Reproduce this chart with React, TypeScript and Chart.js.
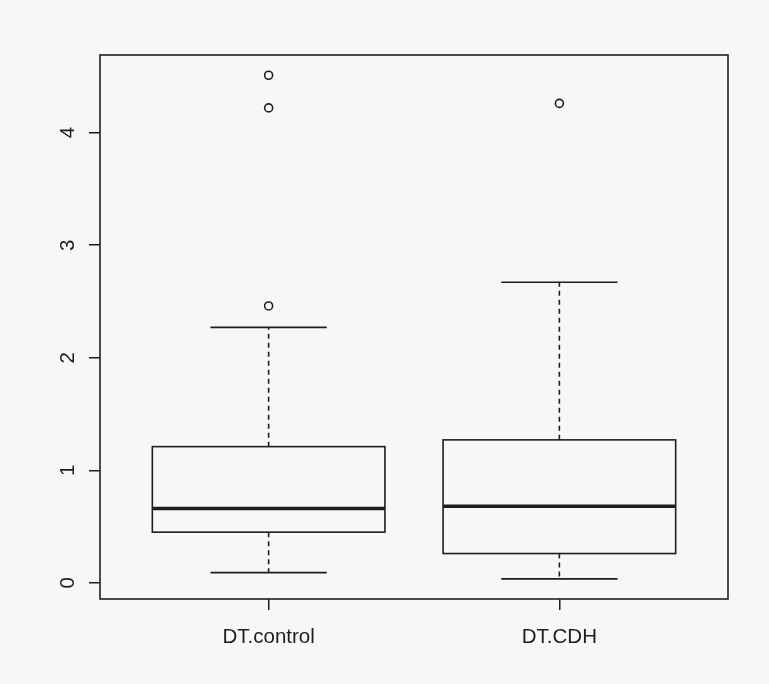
import { useEffect, useRef } from "react";
import { Chart, registerables } from "chart.js";

Chart.register(...registerables);

// ---- data ----
const categories = ["DT.control", "DT.CDH"];
const whiskerLow = [0.09, 0.035];
const q1 = [0.45, 0.26];
const median = [0.66, 0.68];
const q3 = [1.21, 1.27];
const whiskerHigh = [2.27, 2.67];
const outliersControl = [2.46, 4.22, 4.51];
const outliersCDH = [4.26];
const yTickValues = [0, 1, 2, 3, 4];

const INK = "#1e1e1e";
const BG = "#f6f7f7";
const FONT = "'Liberation Sans', Arial, sans-serif";

const boxPlugin = {
  id: "rBoxes",
  beforeDatasetsDraw(chart: any) {
    const { ctx, scales } = chart;
    const xs = scales.x;
    const ys = scales.y;
    const boxHalf = 0.4;
    const stapleHalf = 0.2;
    categories.forEach((_, i) => {
      const pos = i + 1;
      const xl = xs.getPixelForValue(pos - boxHalf);
      const xr = xs.getPixelForValue(pos + boxHalf);
      const xc = xs.getPixelForValue(pos);
      const sl = xs.getPixelForValue(pos - stapleHalf);
      const sr = xs.getPixelForValue(pos + stapleHalf);
      const yq1 = ys.getPixelForValue(q1[i]);
      const yq3 = ys.getPixelForValue(q3[i]);
      const ym = ys.getPixelForValue(median[i]);
      const ylo = ys.getPixelForValue(whiskerLow[i]);
      const yhi = ys.getPixelForValue(whiskerHigh[i]);
      ctx.save();
      ctx.strokeStyle = INK;
      ctx.lineWidth = 1.6;
      // whiskers (dashed)
      ctx.setLineDash([5, 4]);
      ctx.beginPath();
      ctx.moveTo(xc, yq3);
      ctx.lineTo(xc, yhi);
      ctx.moveTo(xc, yq1);
      ctx.lineTo(xc, ylo);
      ctx.stroke();
      ctx.setLineDash([]);
      // staples
      ctx.beginPath();
      ctx.moveTo(sl, yhi);
      ctx.lineTo(sr, yhi);
      ctx.moveTo(sl, ylo);
      ctx.lineTo(sr, ylo);
      ctx.stroke();
      // box
      ctx.strokeRect(xl, yq3, xr - xl, yq1 - yq3);
      // median
      ctx.lineWidth = 3.6;
      ctx.beginPath();
      ctx.moveTo(xl, ym);
      ctx.lineTo(xr, ym);
      ctx.stroke();
      ctx.restore();
    });
  },
  afterDraw(chart: any) {
    const { ctx, chartArea } = chart;
    ctx.save();
    ctx.strokeStyle = INK;
    ctx.lineWidth = 1.6;
    ctx.strokeRect(chartArea.left, chartArea.top, chartArea.right - chartArea.left, chartArea.bottom - chartArea.top);
    ctx.restore();
  },
};

export default function App() {
  const ref = useRef<HTMLCanvasElement | null>(null);

  useEffect(() => {
    if (!ref.current) return;
    const outlierPoints = [
      ...outliersControl.map((v) => ({ x: 1, y: v })),
      ...outliersCDH.map((v) => ({ x: 2, y: v })),
    ];
    const chart = new Chart(ref.current, {
      type: "scatter",
      data: {
        datasets: [
          {
            label: "outliers",
            data: outlierPoints,
            pointStyle: "circle",
            pointRadius: 4,
            backgroundColor: "rgba(0,0,0,0)",
            borderColor: INK,
            borderWidth: 1.6,
          },
        ],
      },
      options: {
        responsive: false,
        animation: false,
        devicePixelRatio: 1,
        layout: { padding: { left: 0, top: 55, right: 41, bottom: 0 } },
        plugins: { legend: { display: false }, tooltip: { enabled: false } },
        scales: {
          x: {
            type: "linear",
            min: 0.42,
            max: 2.58,
            afterBuildTicks: (s: any) => {
              s.ticks = categories.map((_, i) => ({ value: i + 1 }));
            },
            afterFit: (s: any) => {
              s.height = 85;
            },
            border: { display: false },
            grid: {
              drawOnChartArea: false,
              drawTicks: true,
              tickLength: 11,
              color: INK,
              lineWidth: 1.5,
            },
            ticks: {
              autoSkip: false,
              maxRotation: 0,
              minRotation: 0,
              padding: 15,
              color: INK,
              font: { family: FONT, size: 20.5 },
              callback: (v: any) => categories[Math.round(Number(v)) - 1] ?? "",
            },
          },
          y: {
            type: "linear",
            min: -0.144,
            max: 4.69,
            afterBuildTicks: (s: any) => {
              s.ticks = yTickValues.map((v) => ({ value: v }));
            },
            afterFit: (s: any) => {
              s.width = 100;
            },
            border: { display: false },
            grid: {
              drawOnChartArea: false,
              drawTicks: true,
              tickLength: 11,
              color: INK,
              lineWidth: 1.5,
            },
            ticks: {
              autoSkip: false,
              minRotation: 90,
              maxRotation: 90,
              crossAlign: "center",
              padding: 15,
              color: INK,
              font: { family: FONT, size: 20.5 },
              callback: (v: any) => String(v),
            },
          },
        },
      },
      plugins: [boxPlugin],
    });
    return () => chart.destroy();
  }, []);

  return (
    <div style={{ position: "fixed", left: 0, top: 0, width: 769, height: 684, background: BG }}>
      <canvas ref={ref} width={769} height={684} style={{ display: "block" }} />
    </div>
  );
}
